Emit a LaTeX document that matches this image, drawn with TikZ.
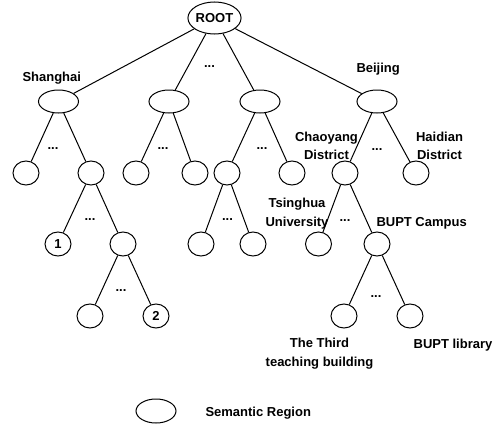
\documentclass[tikz,border=0pt]{standalone}
\usepackage{fontspec}
\setmainfont{Liberation Sans}
\usetikzlibrary{shapes.geometric,positioning}

\begin{document}
\begin{tikzpicture}[x=1pt, y=-1pt, line width=1pt,
    font=\fontsize{13}{18.5}\selectfont\bfseries,
    reg/.style={ellipse, draw, inner sep=0pt, minimum width=40pt, minimum height=23pt},
    leaf/.style={ellipse, draw, inner sep=0pt, minimum width=26pt, minimum height=24pt},
    txt/.style={inner sep=0pt, align=center},
    gap/.style={inner sep=0pt, anchor=base}]
      \useasboundingbox (0,0) rectangle (500,431);

      \node[ellipse, draw, inner sep=0pt, minimum width=53pt, minimum height=32pt] (r) at (214.5,18) {ROOT};

      \node[reg] (n_1) at (58.5,101.5) {};
      \node[reg] (n_2) at (169,101.5) {};
      \node[reg] (n_3) at (260,101.5) {};
      \node[reg] (n_4) at (377,101.5) {};

      \node[leaf] (n_11) at (26,173) {};
      \node[leaf] (n_12) at (91,173) {};
      \node[leaf] (n_21) at (136,173) {};
      \node[leaf] (n_22) at (195,173) {};
      \node[leaf] (n_31) at (227,173) {};
      \node[leaf] (n_32) at (292,173) {};
      \node[leaf] (n_41) at (345,173) {};
      \node[leaf] (n_42) at (416,173) {};

      \node[leaf] (n_121) at (58,244) {1};
      \node[leaf] (n_122) at (123,244) {};
      \node[leaf] (n_311) at (201,244) {};
      \node[leaf] (n_312) at (253,244) {};
      \node[leaf] (n_411) at (318.5,244) {};
      \node[leaf] (n_412) at (377,244) {};

      \node[leaf] (n_1221) at (90,316) {};
      \node[leaf] (n_1222) at (156,316) {2};
      \node[leaf] (n_4121) at (344,316) {};
      \node[leaf] (n_4122) at (410,316) {};

      \node[reg, minimum height=24pt] (key) at (156,411) {};
      \node[gap, anchor=base west] (key_t) at (205,416) {Semantic Region};

      \node[gap, anchor=base west] (sh) at (22,81) {Shanghai};
      \node[gap, anchor=base west] (bj) at (356,72.7) {Beijing};
      \node[txt] (cy) at (326.5,146) {Chaoyang\\District};
      \node[txt] (hd) at (439.5,146) {Haidian\\District};
      \node[txt] (th) at (297,213.5) {Tsinghua\\University};
      \node[gap, anchor=base west] (bc) at (376,226.7) {BUPT Campus};
      \node[txt] (tb) at (319.5,353.5) {The Third\\teaching building};
      \node[gap] (lib) at (453,348.3) {BUPT library};

      \node[gap] (d_r) at (209.5,67.5) {...};
      \node[gap] (d_1) at (53,149) {...};
      \node[gap] (d_2) at (163,149) {...};
      \node[gap] (d_3) at (262,149) {...};
      \node[gap] (d_4) at (377,150) {...};
      \node[gap] (d_12) at (90,220) {...};
      \node[gap] (d_31) at (227.5,220) {...};
      \node[gap] (d_41) at (345,221) {...};
      \node[gap] (d_122) at (121,291) {...};
      \node[gap] (d_412) at (376,297.5) {...};

      \draw (r) -- (n_1);
      \draw (r) -- (n_2);
      \draw (r) -- (n_3);
      \draw (r) -- (n_4);

      \draw (n_1) -- (n_11);
      \draw (n_1) -- (n_12);
      \draw (n_2) -- (n_21);
      \draw (n_2) -- (n_22);
      \draw (n_3) -- (n_31);
      \draw (n_3) -- (n_32);
      \draw (n_4) -- (n_41);
      \draw (n_4) -- (n_42);

      \draw (n_12) -- (n_121);
      \draw (n_12) -- (n_122);
      \draw (n_31) -- (n_311);
      \draw (n_31) -- (n_312);
      \draw (n_41) -- (n_411);
      \draw (n_41) -- (n_412);

      \draw (n_122) -- (n_1221);
      \draw (n_122) -- (n_1222);
      \draw (n_412) -- (n_4121);
      \draw (n_412) -- (n_4122);
\end{tikzpicture}
\end{document}
